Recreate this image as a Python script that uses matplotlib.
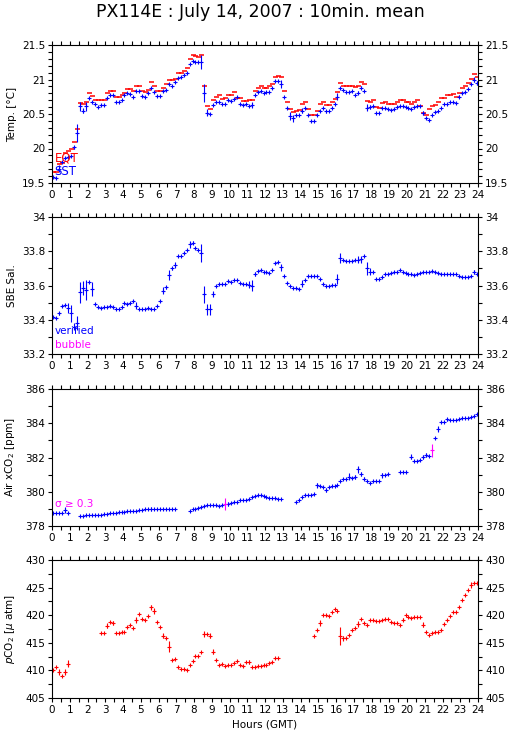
import numpy as np
import matplotlib
matplotlib.use("Agg")
import matplotlib.pyplot as plt
from matplotlib.ticker import MultipleLocator, FuncFormatter

nan = np.nan

# 10-minute means, centre of each interval (hours GMT)
hours = np.arange(144) / 6 + 5 / 60

sst = [19.58, 19.57, 19.71, 19.80, 19.86, 19.88, 19.89, 20.02, 20.23, 20.61, 20.55, 20.61,
       20.73, 20.68, 20.64, 20.60, 20.63, 20.63, 20.73, 20.77, 20.77, 20.68, 20.68, 20.71,
       20.78, 20.80, 20.79, 20.75, 20.83, 20.83, 20.76, 20.75, 20.80, 20.87, 20.82, 20.76,
       20.76, 20.83, 20.85, 20.94, 20.90, 20.96, 21.02, 21.04, 21.06, 21.10, 21.23, 21.27,
       21.26, 21.25, 21.25, 20.80, 20.52, 20.50, 20.63, 20.68, 20.68, 20.65, 20.65, 20.70,
       20.69, 20.72, 20.74, 20.65, 20.63, 20.65, 20.62, 20.63, 20.77, 20.82, 20.83, 20.81,
       20.82, 20.82, 20.87, 20.98, 20.98, 20.93, 20.74, 20.59, 20.47, 20.44, 20.48, 20.49,
       20.55, 20.59, 20.48, 20.40, 20.40, 20.48, 20.55, 20.59, 20.54, 20.54, 20.59, 20.64,
       20.75, 20.87, 20.85, 20.82, 20.82, 20.83, 20.78, 20.81, 20.88, 20.83, 20.59, 20.60,
       20.61, 20.52, 20.52, 20.58, 20.58, 20.57, 20.56, 20.57, 20.60, 20.62, 20.62, 20.60,
       20.59, 20.57, 20.60, 20.61, 20.61, 20.51, 20.44, 20.41, 20.49, 20.53, 20.54, 20.58,
       20.64, 20.64, 20.67, 20.68, 20.66, 20.75, 20.80, 20.82, 20.86, 20.93, 21.00, 20.95]
sst_sd = [0.01, 0.01, 0.05, 0.01, 0.01, 0.01, 0.01, 0.02, 0.13, 0.06, 0.04, 0.06,
          0.01, 0.01, 0.01, 0.01, 0.01, 0.01, 0.01, 0.01, 0.01, 0.01, 0.01, 0.01,
          0.01, 0.01, 0.01, 0.01, 0.01, 0.01, 0.01, 0.01, 0.01, 0.01, 0.01, 0.01,
          0.01, 0.01, 0.01, 0.01, 0.01, 0.01, 0.01, 0.01, 0.01, 0.01, 0.01, 0.01,
          0.01, 0.01, 0.10, 0.13, 0.05, 0.02, 0.01, 0.01, 0.01, 0.01, 0.01, 0.01,
          0.01, 0.01, 0.01, 0.01, 0.01, 0.01, 0.01, 0.05, 0.01, 0.01, 0.01, 0.01,
          0.01, 0.01, 0.01, 0.01, 0.01, 0.06, 0.01, 0.01, 0.06, 0.05, 0.01, 0.01,
          0.03, 0.01, 0.01, 0.01, 0.01, 0.01, 0.01, 0.01, 0.02, 0.01, 0.01, 0.01,
          0.05, 0.01, 0.01, 0.01, 0.01, 0.01, 0.01, 0.02, 0.02, 0.01, 0.05, 0.03,
          0.01, 0.01, 0.01, 0.01, 0.01, 0.01, 0.01, 0.01, 0.01, 0.01, 0.01, 0.01,
          0.01, 0.01, 0.01, 0.01, 0.01, 0.03, 0.01, 0.01, 0.01, 0.01, 0.01, 0.01,
          0.01, 0.01, 0.01, 0.01, 0.01, 0.02, 0.01, 0.01, 0.01, 0.01, 0.03, 0.03]
eqt = [19.66, 19.66, 19.78, 19.79, 19.94, 19.97, 20.00, 20.10, 20.28, 20.66, 20.64, 20.68,
       20.81, 20.76, 20.70, 20.70, 20.70, 20.70, 20.81, 20.83, 20.83, 20.75, 20.75, 20.77,
       20.80, 20.86, 20.86, 20.83, 20.91, 20.91, 20.83, 20.82, 20.85, 20.96, 20.90, 20.83,
       20.83, 20.88, 20.93, 21.00, 21.00, 21.01, 21.10, 21.10, 21.13, 21.17, 21.29, 21.35,
       21.34, 21.33, 21.35, 20.91, 20.62, 20.57, 20.70, 20.74, 20.77, 20.72, 20.73, 20.77,
       20.77, 20.82, 20.73, 20.73, 20.69, 20.69, 20.71, 20.71, 20.84, 20.88, 20.91, 20.88,
       20.88, 20.91, 20.94, 21.03, 21.05, 21.03, 20.83, 20.68, 20.57, 20.53, 20.55, 20.56,
       20.64, 20.68, 20.57, 20.48, 20.48, 20.55, 20.64, 20.68, 20.63, 20.63, 20.67, 20.72,
       20.82, 20.95, 20.91, 20.91, 20.91, 20.91, 20.89, 20.90, 20.96, 20.93, 20.69, 20.68,
       20.70, 20.60, 20.59, 20.66, 20.67, 20.65, 20.65, 20.64, 20.68, 20.70, 20.70, 20.68,
       20.68, 20.65, 20.68, 20.70, 20.62, 20.52, 20.49, 20.57, 20.61, 20.63, 20.68, 20.73,
       20.73, 20.77, 20.78, 20.79, 20.75, 20.80, 20.88, 20.90, 20.95, 21.01, 21.08, 21.03]

sal = [33.417, 33.410, 33.437, 33.480, 33.485, 33.470, 33.437, 33.360, 33.380, 33.560, 33.585, 33.575,
       33.620, 33.580, 33.490, 33.475, 33.470, 33.472, 33.475, 33.480, 33.475, 33.465, 33.465, 33.475,
       33.495, 33.490, 33.500, 33.510, 33.483, 33.462, 33.460, 33.460, 33.470, 33.463, 33.460, 33.483,
       33.510, 33.570, 33.590, 33.660, 33.700, 33.720, 33.770, 33.773, 33.790, 33.810, 33.840, 33.850,
       33.820, 33.810, 33.790, 33.550, 33.460, 33.460, 33.550, 33.600, 33.610, 33.607, 33.610, 33.625,
       33.623, 33.630, 33.635, 33.617, 33.610, 33.607, 33.605, 33.600, 33.667, 33.685, 33.690, 33.680,
       33.678, 33.675, 33.690, 33.730, 33.735, 33.707, 33.653, 33.617, 33.600, 33.588, 33.585, 33.580,
       33.610, 33.635, 33.655, 33.657, 33.655, 33.653, 33.638, 33.610, 33.600, 33.600, 33.603, 33.603,
       33.640, 33.760, 33.750, 33.742, 33.742, 33.743, 33.750, 33.750, 33.753, 33.770, 33.700, 33.680,
       33.680, 33.640, 33.640, 33.650, 33.667, 33.667, 33.675, 33.678, 33.678, 33.690, 33.680, 33.675,
       33.667, 33.665, 33.660, 33.670, 33.675, 33.678, 33.678, 33.680, 33.685, 33.680, 33.675, 33.667,
       33.667, 33.670, 33.670, 33.667, 33.665, 33.657, 33.650, 33.650, 33.650, 33.655, 33.680, 33.670]
sal_sd = [0.005, 0.005, 0.01, 0.005, 0.005, 0.03, 0.05, 0.02, 0.04, 0.06, 0.04, 0.06,
          0.005, 0.04, 0.005, 0.005, 0.005, 0.005, 0.005, 0.005, 0.005, 0.005, 0.005, 0.005,
          0.005, 0.005, 0.005, 0.005, 0.02, 0.005, 0.005, 0.005, 0.005, 0.005, 0.005, 0.005,
          0.005, 0.02, 0.01, 0.03, 0.01, 0.02, 0.005, 0.005, 0.005, 0.005, 0.02, 0.01,
          0.005, 0.005, 0.05, 0.05, 0.03, 0.03, 0.02, 0.005, 0.005, 0.005, 0.005, 0.005,
          0.005, 0.005, 0.005, 0.005, 0.005, 0.005, 0.02, 0.03, 0.01, 0.005, 0.005, 0.005,
          0.005, 0.005, 0.005, 0.005, 0.005, 0.02, 0.005, 0.005, 0.005, 0.005, 0.005, 0.005,
          0.02, 0.005, 0.005, 0.005, 0.005, 0.005, 0.005, 0.005, 0.005, 0.005, 0.005, 0.005,
          0.03, 0.03, 0.005, 0.005, 0.005, 0.005, 0.005, 0.02, 0.02, 0.005, 0.04, 0.02,
          0.005, 0.005, 0.005, 0.005, 0.005, 0.005, 0.005, 0.005, 0.005, 0.005, 0.005, 0.005,
          0.005, 0.005, 0.005, 0.005, 0.005, 0.005, 0.005, 0.005, 0.005, 0.005, 0.005, 0.005,
          0.005, 0.005, 0.005, 0.005, 0.005, 0.005, 0.005, 0.005, 0.005, 0.005, 0.01, 0.005]

xco2 = [378.78, 378.78, 378.78, 378.78, 378.93, 378.78, nan, nan, nan, 378.58, 378.58, 378.62,
        378.64, 378.66, 378.66, 378.66, 378.66, 378.68, 378.70, 378.74, 378.78, 378.78, 378.80, 378.82,
        378.84, 378.86, 378.88, 378.88, 378.88, 378.91, 378.95, 378.97, 378.97, 379.00, 378.97, 378.99,
        379.00, 379.00, 379.00, 379.00, 379.00, 379.00, nan, nan, nan, nan, 378.89, 378.97,
        379.00, 379.06, 379.10, 379.16, 379.20, 379.20, 379.20, 379.20, 379.16, 379.20, 379.26, 379.30,
        379.36, 379.40, 379.40, 379.52, 379.52, 379.52, 379.55, 379.69, 379.75, 379.79, 379.83, 379.75,
        379.69, 379.65, 379.63, 379.63, 379.59, 379.59, nan, nan, nan, nan, 379.42, 379.53,
        379.71, 379.83, 379.83, 379.83, 379.85, 380.37, 380.35, 380.29, 380.08, 380.29, 380.33, 380.33,
        380.37, 380.62, 380.76, 380.76, 380.87, 380.78, 380.87, 381.30, 381.05, 380.76, 380.62, 380.52,
        380.60, 380.62, 380.62, 380.95, 381.00, 381.05, nan, nan, nan, 381.14, 381.18, 381.14,
        nan, 382.04, 381.77, 381.81, 381.84, 382.04, 382.15, 382.08, 382.41, 383.14, 383.66, 384.06,
        384.10, 384.23, 384.20, 384.20, 384.20, 384.23, 384.29, 384.29, 384.30, 384.35, 384.45, 384.52]
xco2_sd = [0.03, 0.03, 0.03, 0.03, 0.20, 0.03, 0.03, 0.03, 0.03, 0.03, 0.03, 0.03,
           0.03, 0.03, 0.03, 0.03, 0.03, 0.03, 0.03, 0.03, 0.03, 0.03, 0.03, 0.03,
           0.03, 0.03, 0.03, 0.03, 0.03, 0.03, 0.03, 0.03, 0.03, 0.10, 0.03, 0.03,
           0.03, 0.03, 0.03, 0.03, 0.03, 0.03, 0.03, 0.03, 0.03, 0.03, 0.03, 0.03,
           0.03, 0.03, 0.03, 0.03, 0.03, 0.03, 0.03, 0.03, 0.03, 0.03, 0.35, 0.12,
           0.03, 0.03, 0.03, 0.03, 0.03, 0.03, 0.03, 0.03, 0.03, 0.03, 0.03, 0.03,
           0.03, 0.03, 0.03, 0.03, 0.03, 0.03, 0.03, 0.03, 0.03, 0.03, 0.03, 0.03,
           0.03, 0.03, 0.03, 0.03, 0.03, 0.15, 0.03, 0.03, 0.12, 0.03, 0.03, 0.03,
           0.03, 0.03, 0.03, 0.03, 0.20, 0.03, 0.12, 0.20, 0.12, 0.10, 0.03, 0.03,
           0.03, 0.03, 0.03, 0.15, 0.03, 0.03, 0.03, 0.03, 0.03, 0.03, 0.03, 0.03,
           0.03, 0.15, 0.03, 0.03, 0.03, 0.12, 0.10, 0.03, 0.40, 0.08, 0.20, 0.03,
           0.03, 0.08, 0.03, 0.03, 0.03, 0.03, 0.03, 0.03, 0.03, 0.03, 0.05, 0.03]

pco2 = [410.0, 410.6, 409.7, 409.0, 409.7, 411.2, nan, nan, nan, nan, nan, nan,
        nan, nan, nan, nan, 416.8, 416.7, 418.1, 418.8, 418.6, 416.8, 416.7, 416.9,
        417.0, 417.8, 418.3, 417.6, 419.1, 420.3, 419.3, 419.1, 419.8, 421.4, 420.8, 418.8,
        417.8, 416.3, 415.8, 414.3, 411.9, 412.0, 410.7, 410.3, 410.3, 410.1, 411.0, 411.7,
        412.6, 412.6, 413.3, 416.6, 416.6, 416.3, 413.4, 411.9, 411.0, 411.1, 410.8, 410.9,
        411.0, 411.4, 411.7, 411.0, 410.8, 411.5, 411.5, 410.6, 410.6, 410.8, 410.8, 410.9,
        411.0, 411.3, 411.6, 412.2, 412.2, nan, nan, nan, nan, nan, nan, nan,
        nan, nan, nan, nan, 416.3, 417.3, 418.6, 420.1, 420.0, 419.9, 420.6, 421.2,
        420.8, 416.2, 415.8, 415.9, 416.4, 417.3, 417.6, 418.4, 419.4, 418.6, 418.3, 419.2,
        419.1, 419.0, 418.9, 419.1, 419.3, 419.3, 418.8, 418.6, 418.5, 418.3, 419.2, 420.0,
        419.7, 419.5, 419.6, 419.6, 419.6, 418.3, 416.9, 416.4, 416.7, 416.9, 416.9, 417.3,
        418.4, 419.2, 419.9, 420.5, 420.6, 421.5, 422.7, 423.6, 424.5, 425.5, 425.9, 425.8]
pco2_sd = [0.1, 0.1, 0.5, 0.1, 0.5, 0.6, 0.1, 0.1, 0.1, 0.1, 0.1, 0.1,
           0.1, 0.1, 0.1, 0.1, 0.1, 0.1, 0.4, 0.1, 0.3, 0.1, 0.1, 0.1,
           0.1, 0.1, 0.1, 0.1, 0.5, 0.1, 0.1, 0.1, 0.1, 0.4, 0.5, 0.1,
           0.1, 0.4, 0.1, 1.0, 0.1, 0.1, 0.1, 0.1, 0.1, 0.1, 0.1, 0.1,
           0.1, 0.1, 0.1, 0.6, 0.1, 0.5, 0.4, 0.1, 0.1, 0.1, 0.1, 0.1,
           0.1, 0.1, 0.1, 0.1, 0.1, 0.1, 0.4, 0.1, 0.1, 0.1, 0.1, 0.1,
           0.1, 0.1, 0.1, 0.1, 0.1, 0.1, 0.1, 0.1, 0.1, 0.1, 0.1, 0.1,
           0.1, 0.1, 0.1, 0.1, 0.1, 0.1, 0.6, 0.1, 0.1, 0.1, 0.1, 0.1,
           0.1, 1.6, 0.5, 0.1, 0.1, 0.1, 0.1, 0.6, 0.1, 0.1, 0.1, 0.1,
           0.1, 0.1, 0.1, 0.1, 0.1, 0.1, 0.1, 0.1, 0.1, 0.1, 0.3, 0.1,
           0.1, 0.1, 0.1, 0.1, 0.1, 0.5, 0.1, 0.1, 0.1, 0.1, 0.1, 0.1,
           0.1, 0.1, 0.1, 0.1, 0.1, 0.1, 0.1, 0.1, 0.1, 0.5, 0.1, 0.1]

BLUE = "#0000ff"
RED = "#ff0000"
MAGENTA = "#ff00ff"
SIGMA_LIMIT = 0.3

plt.rcParams["font.family"] = ["DejaVu Sans"]
plt.rcParams["font.size"] = 7.5

fig = plt.figure(figsize=(5.15, 7.39), dpi=100)
W, H = 515, 739


def add_axes(top, bottom):
    return fig.add_axes([52 / W, 1 - bottom / H, 426 / W, (bottom - top) / H])


def style(ax, ylim, major, minor, ylabel):
    ax.set_xlim(0, 24)
    ax.set_ylim(*ylim)
    ax.xaxis.set_major_locator(MultipleLocator(1))
    ax.xaxis.set_minor_locator(MultipleLocator(0.5))
    ax.yaxis.set_major_locator(MultipleLocator(major))
    ax.yaxis.set_minor_locator(MultipleLocator(minor))
    fmt = FuncFormatter(lambda v, p: "%g" % round(v, 3))
    ax.yaxis.set_major_formatter(fmt)
    ax.xaxis.set_major_formatter(FuncFormatter(lambda v, p: "%d" % v))
    ax.tick_params(which="both", direction="out", length=3, width=0.8,
                   top=True, right=True, labelright=True, labelsize=7.5, pad=2)
    for s in ax.spines.values():
        s.set_linewidth(0.8)
    ax.set_ylabel(ylabel, fontsize=7.5)
    ax.yaxis.set_label_coords(-0.082, 0.5)


def marks(ax, y, sd, color):
    ax.errorbar(hours, y, yerr=sd, fmt="none", ecolor=color, elinewidth=0.8)
    ax.plot(hours, y, "+", color=color, ms=3.2, mew=0.8)


# Temperature
ax1 = add_axes(45, 183)
style(ax1, (19.5, 21.5), 0.5, 0.1, "Temp. [°C]")
ax1.plot(hours, eqt, "_", color=RED, ms=3.6, mew=1.1)
marks(ax1, sst, sst_sd, BLUE)
ax1.text(0.006, 0.18, "EQT", color=RED, fontsize=8.5, transform=ax1.transAxes, va="center")
ax1.text(0.006, 0.08, "SST", color=BLUE, fontsize=8.5, transform=ax1.transAxes, va="center")

# Salinity
ax2 = add_axes(217, 354)
style(ax2, (33.2, 34.0), 0.2, 0.1, "SBE Sal.")
marks(ax2, sal, sal_sd, BLUE)
ax2.text(0.006, 0.17, "verified", color=BLUE, transform=ax2.transAxes, va="center")
ax2.text(0.006, 0.065, "bubble", color=MAGENTA, transform=ax2.transAxes, va="center")

# Air xCO2
ax3 = add_axes(389, 526)
style(ax3, (378, 386), 2, 1, "Air xCO$_2$ [ppm]")
xco2_arr = np.array(xco2)
xsd = np.array(xco2_sd)
big = xsd >= SIGMA_LIMIT
marks(ax3, np.where(big, nan, xco2_arr), xsd, BLUE)
marks(ax3, np.where(big, xco2_arr, nan), xsd, MAGENTA)
ax3.text(0.006, 0.16, "σ ≥ 0.3", color=MAGENTA, transform=ax3.transAxes, va="center")

# Water pCO2
ax4 = add_axes(560, 698)
style(ax4, (405, 430), 5, 2.5, r"$\it{p}$CO$_2$ [$\mu$ atm]")
marks(ax4, pco2, pco2_sd, RED)
ax4.set_xlabel("Hours (GMT)", fontsize=7.5, labelpad=3)

fig.text(260 / W, 1 - 12 / H, "PX114E : July 14, 2007 : 10min. mean",
         ha="center", va="center", fontsize=12.5)

fig.savefig("out.png", dpi=100)
